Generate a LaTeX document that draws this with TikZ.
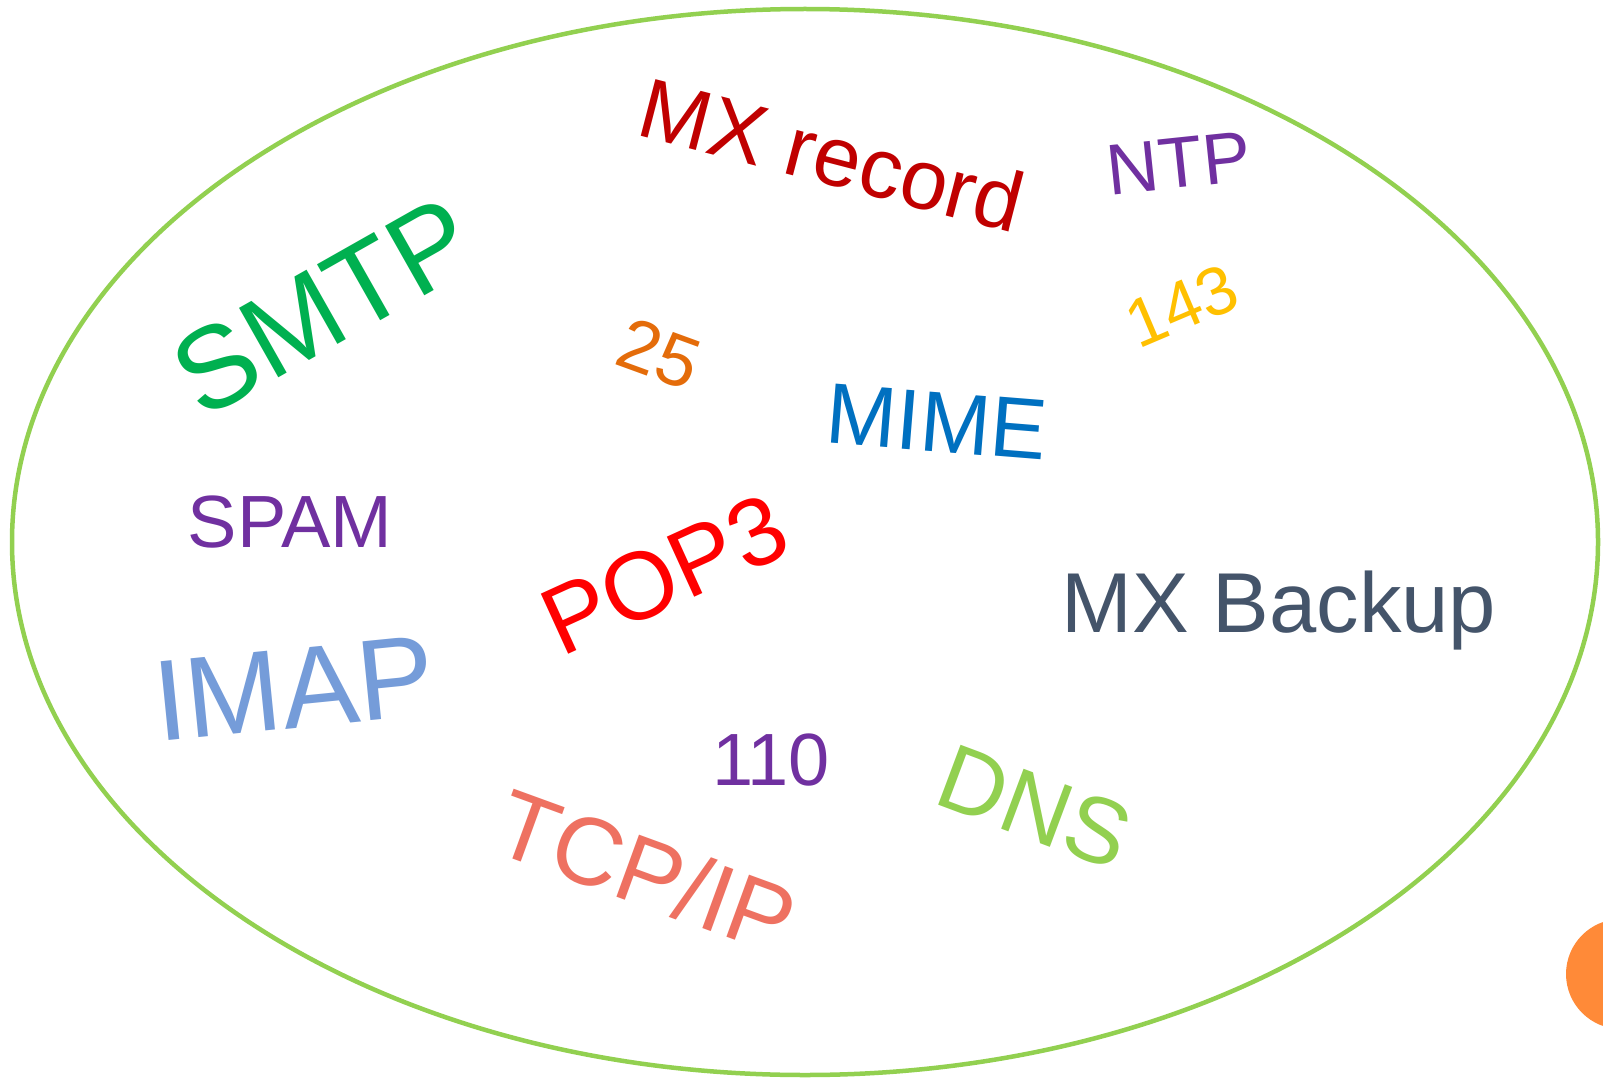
\documentclass[tikz,border=0pt]{standalone}
\usepackage{fontspec}
\setmainfont{Liberation Sans}
\definecolor{ringgreen}{HTML}{92D050}
\definecolor{dotorange}{HTML}{FF8A38}
\definecolor{mxred}{HTML}{C00000}
\definecolor{ntppurple}{HTML}{7030A0}
\definecolor{smtpgreen}{HTML}{00B050}
\definecolor{gold}{HTML}{FFC000}
\definecolor{darkorange}{HTML}{E46C0A}
\definecolor{mimeblue}{HTML}{0070C0}
\definecolor{popred}{HTML}{FF0000}
\definecolor{slate}{HTML}{44546A}
\definecolor{imapblue}{HTML}{759CD9}
\definecolor{salmon}{HTML}{EE7161}
\newcommand\fsz[1]{\fontsize{#1}{#1}\selectfont}
\begin{document}
\begin{tikzpicture}[x=1pt,y=-1pt,
  word/.style={inner sep=0pt, outer sep=0pt}]
\clip (0,0) rectangle (1603,1078);
\fill[white] (0,0) rectangle (1603,1078);
\draw[ringgreen, line width=4.5pt] (805,542) ellipse [x radius=793, y radius=533];
\fill[dotorange] (1621,974) circle [radius=55];

\node[word, text=mxred, font=\fsz{85}, rotate=-14.5] (mxrecord) at (832,154.5) {MX record};
\node[word, text=ntppurple, font=\fsz{72}, rotate=6] (ntp) at (1179,163) {NTP};
\node[word, text=smtpgreen, font=\fsz{116}, rotate=29.5] (smtp) at (323.5,306.7) {SMTP};
\node[word, text=gold, font=\fsz{68}, rotate=23] (n143) at (1182,306) {143};
\node[word, text=darkorange, font=\fsz{73}, rotate=-20] (n25) at (659.4,354.2) {25};
\node[word, text=mimeblue, font=\fsz{86}, rotate=-4.6, xscale=0.98] (mime) at (937,422) {MIME};
\node[word, text=ntppurple, font=\fsz{74}] (spam) at (290,522) {SPAM};
\node[word, text=popred, font=\fsz{96}, rotate=24.5] (pop3) at (664.5,574.5) {POP3};
\node[word, text=slate, font=\fsz{85}, anchor=base] (mxbackup) at (1279,632) {MX Backup};
\node[word, text=imapblue, font=\fsz{115}, rotate=5.7] (imap) at (294,688.5) {IMAP};
\node[word, text=ntppurple, font=\fsz{74}] (n110) at (771,760) {110};
\node[word, text=salmon, font=\fsz{96}, rotate=-20] (tcpip) at (646.5,871) {TCP/IP};
\node[word, text=ringgreen, font=\fsz{93}, rotate=-20.5] (dns) at (1035,807) {DNS};
\end{tikzpicture}
\end{document}
